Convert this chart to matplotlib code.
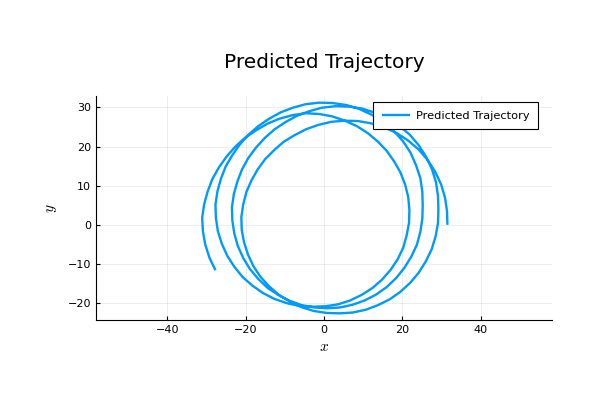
import matplotlib
matplotlib.use("Agg")
import matplotlib.pyplot as plt

plt.rcParams.update({
    'font.family': 'DejaVu Sans',
    'mathtext.fontset': 'cm',
    'xtick.direction': 'in',
    'ytick.direction': 'in',
})

# trajectory points, in drawing order
traj_x = [31.5, 31.4, 30.9, 29.9, 28.4, 26.5, 24.2, 21.5, 18.6, 15.4, 12.1, 8.7, 5.2,
          1.8, -1.5, -4.6, -7.5, -10.3, -12.7, -15.0, -16.9, -18.5, -19.8, -20.6, -21.1,
          -21.0, -20.4, -19.4, -18.0, -16.2, -14.0, -11.5, -8.7, -5.8, -2.6, 0.7, 4.0,
          7.3, 10.6, 13.8, 16.8, 19.5, 22.0, 24.2, 26.0, 27.5, 28.5, 29.1, 29.2,
          29.1, 28.6, 27.6, 26.1, 24.2, 21.9, 19.2, 16.3, 13.1, 9.7, 6.3, 2.9,
          -0.6, -3.8, -7.0, -9.9, -12.6, -15.1, -17.3, -19.3, -20.9, -22.1, -23.0, -23.5,
          -23.4, -22.9, -22.0, -20.6, -18.9, -16.8, -14.4, -11.7, -8.8, -5.7, -2.5, 0.8,
          4.1, 7.3, 10.4, 13.3, 16.0, 18.4, 20.5, 22.3, 23.7, 24.6, 25.1, 25.2,
          25.1, 24.6, 23.5, 22.1, 20.2, 17.8, 15.2, 12.2, 9.0, 5.7, 2.2, -1.2,
          -4.7, -8.0, -11.1, -14.0, -16.8, -19.3, -21.5, -23.4, -25.1, -26.3, -27.2, -27.7,
          -27.6, -27.1, -26.1, -24.7, -22.9, -20.8, -18.3, -15.6, -12.7, -9.5, -6.3, -3.0,
          0.3, 3.6, 6.7, 9.6, 12.4, 14.8, 17.0, 18.8, 20.2, 21.1, 21.7, 21.8,
          21.5, 20.7, 19.5, 17.9, 16.0, 13.7, 11.2, 8.4, 5.3, 2.1, -1.2, -4.7,
          -8.1, -11.4, -14.5, -17.4, -20.2, -22.7, -24.9, -26.8, -28.5, -29.7, -30.6, -31.1,
          -30.9, -30.3, -29.2, -27.7]
traj_y = [0.0, 3.5, 6.9, 10.3, 13.5, 16.5, 19.2, 21.5, 23.4, 24.9, 25.9, 26.5, 26.6,
          26.3, 25.5, 24.4, 22.9, 21.2, 19.1, 16.8, 14.2, 11.4, 8.4, 5.3, 2.0,
          -1.3, -4.5, -7.6, -10.6, -13.3, -15.7, -17.9, -19.6, -21.0, -22.0, -22.5, -22.6,
          -22.4, -21.7, -20.5, -19.0, -17.1, -14.8, -12.2, -9.3, -6.2, -2.9, 0.5, 3.9,
          7.4, 10.8, 14.1, 17.3, 20.3, 23.0, 25.3, 27.2, 28.6, 29.7, 30.2, 30.3,
          29.9, 29.0, 27.8, 26.2, 24.4, 22.2, 19.8, 17.1, 14.2, 11.1, 7.9, 4.5,
          1.1, -2.2, -5.4, -8.5, -11.3, -13.8, -16.1, -17.9, -19.4, -20.5, -21.1, -21.3,
          -21.1, -20.4, -19.3, -17.8, -15.9, -13.6, -11.0, -8.1, -5.1, -1.8, 1.6, 5.0,
          8.4, 11.9, 15.2, 18.4, 21.3, 24.0, 26.3, 28.1, 29.6, 30.6, 31.1, 31.2,
          30.8, 29.9, 28.7, 27.1, 25.2, 23.0, 20.5, 17.8, 14.9, 11.8, 8.6, 5.2,
          1.8, -1.6, -4.8, -7.9, -10.7, -13.3, -15.5, -17.4, -18.9, -20.0, -20.7, -20.9,
          -20.8, -20.3, -19.3, -17.9, -16.1, -14.0, -11.5, -8.8, -5.9, -2.7, 0.5, 3.8,
          7.1, 10.3, 13.4, 16.2, 18.9, 21.3, 23.4, 25.2, 26.6, 27.7, 28.3, 28.5,
          28.0, 27.1, 25.8, 24.1, 22.2, 19.9, 17.4, 14.7, 11.7, 8.5, 5.2, 1.8,
          -1.7, -5.1, -8.5, -11.6]

x_ticks = [-40, -20, 0, 20, 40]
y_ticks = [-20, -10, 0, 10, 20, 30]

fig = plt.figure(figsize=(6, 4), dpi=100)
ax = fig.add_axes([0.16, 0.2, 0.76, 0.56])

ax.plot(traj_x, traj_y, color='#009AFA', linewidth=1.7, label='Predicted Trajectory',
        solid_joinstyle='round', solid_capstyle='butt')

ax.set_xlim(-58.2, 58.2)
ax.set_ylim(-24.3, 32.9)
ax.set_xticks(x_ticks)
ax.set_yticks(y_ticks)
ax.tick_params(labelsize=8, length=3, width=0.8, colors='black')
ax.grid(True, color='black', alpha=0.1, linewidth=0.5)
ax.set_axisbelow(True)

ax.spines['top'].set_visible(False)
ax.spines['right'].set_visible(False)
ax.spines['left'].set_color('black')
ax.spines['bottom'].set_color('black')

ax.set_xlabel('$x$', fontsize=11, labelpad=3)
ax.set_ylabel('$y$', fontsize=11, labelpad=6)

fig.text(0.54, 0.8425, 'Predicted Trajectory', fontsize=14.5, ha='center', va='center')

leg = ax.legend(loc='upper right', bbox_to_anchor=(0.969, 0.973), fontsize=8.2,
                fancybox=False, framealpha=1, edgecolor='black', borderaxespad=0,
                handlelength=2.5, handletextpad=0.5, borderpad=0.75)
leg.get_frame().set_linewidth(0.8)

fig.savefig('out.png', dpi=100)
